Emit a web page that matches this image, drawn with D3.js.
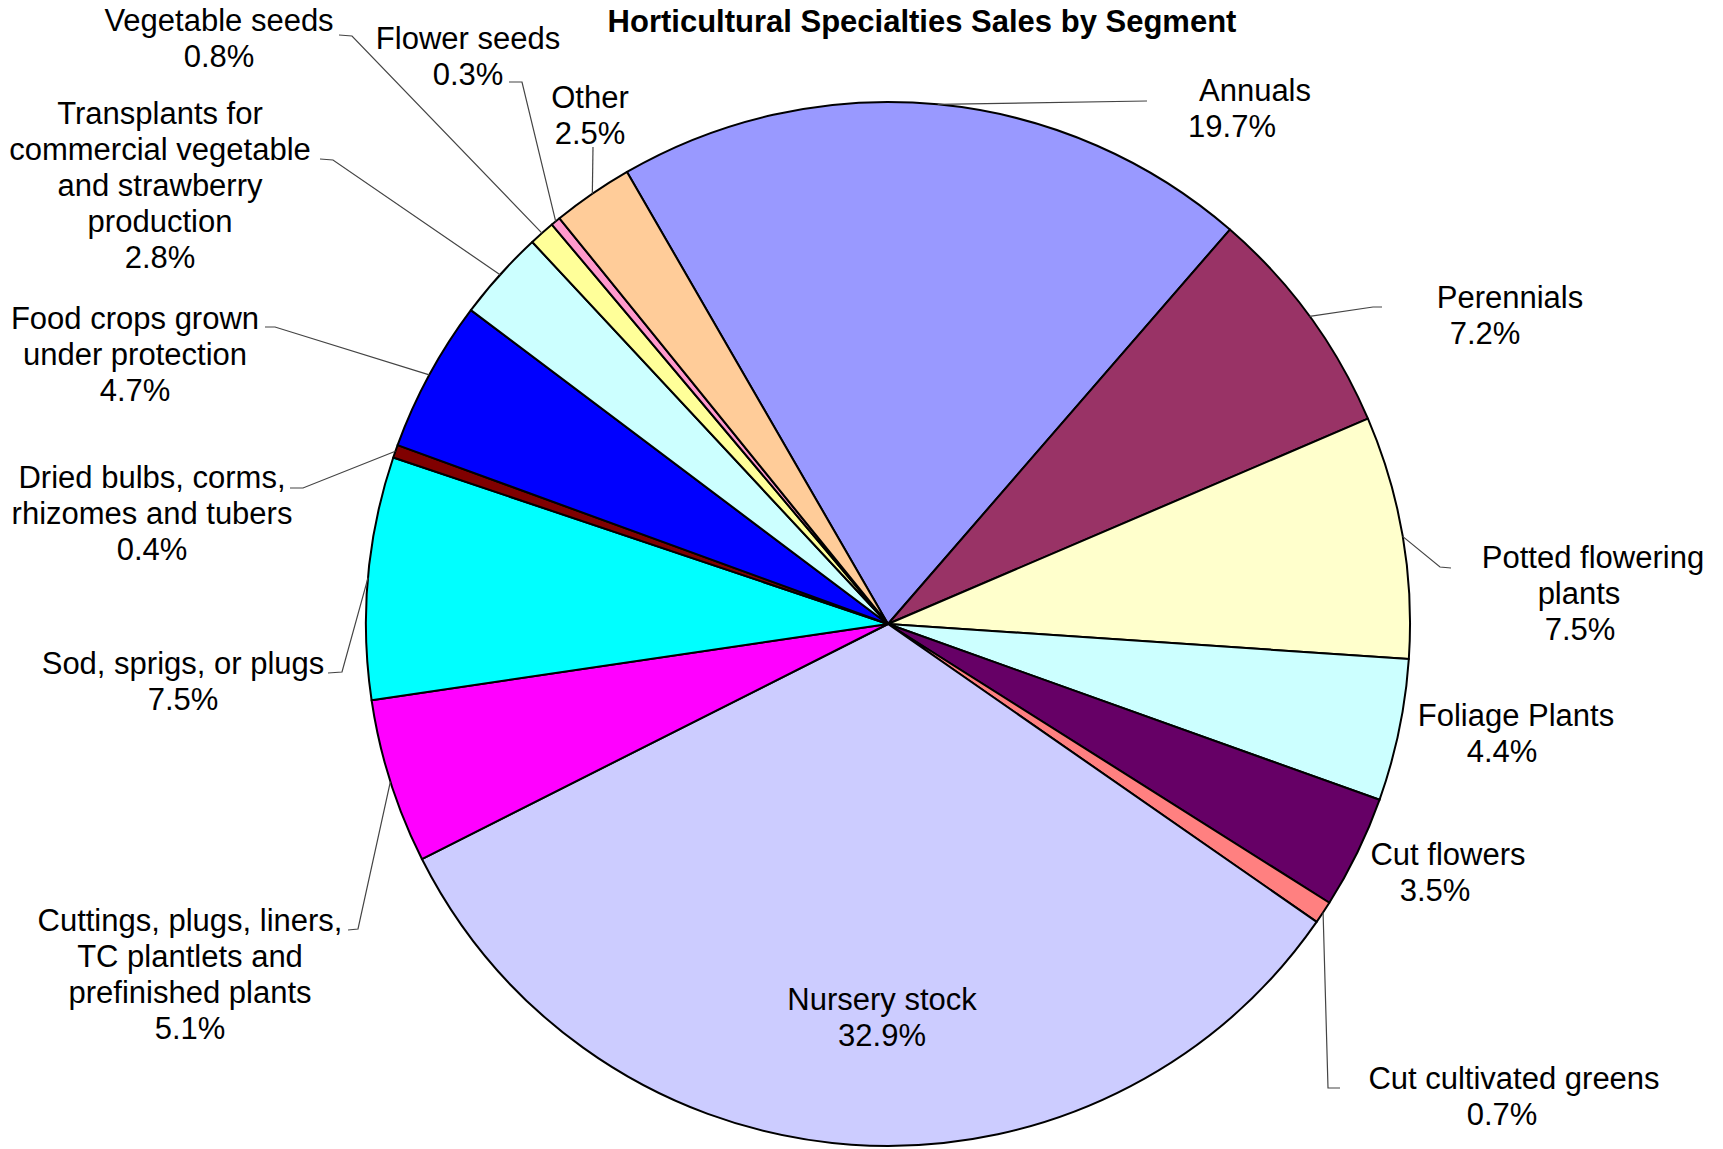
<!DOCTYPE html>
<html>
<head>
<meta charset="utf-8">
<script src="https://cdn.jsdelivr.net/npm/d3@7"></script>
<style>
  body { margin: 0; background: #fff; }
  svg { display: block; }
  text { font-family: "Liberation Sans", Arial, sans-serif; fill: #000; }
</style>
</head>
<body>
<div id="chart"></div>
<script>
// segments, clockwise from the Annuals slice
var categories = [
  "Annuals", "Perennials", "Potted flowering plants", "Foliage Plants",
  "Cut flowers", "Cut cultivated greens", "Nursery stock",
  "Cuttings, plugs, liners, TC plantlets and prefinished plants",
  "Sod, sprigs, or plugs", "Dried bulbs, corms, rhizomes and tubers",
  "Food crops grown under protection",
  "Transplants for commercial vegetable and strawberry production",
  "Vegetable seeds", "Flower seeds", "Other"
];
var values = [19.7, 7.2, 7.5, 4.4, 3.5, 0.7, 32.9, 5.1, 7.5, 0.4, 4.7, 2.8, 0.8, 0.3, 2.5];
var colors = [
  "#9999FF", "#993366", "#FFFFCC", "#CCFFFF", "#660066", "#FF8080", "#CCCCFF",
  "#FF00FF", "#00FFFF", "#800000", "#0000FF", "#CCFFFF", "#FFFF99", "#FF99CC", "#FFCC99"
];
var title = "Horticultural Specialties Sales by Segment";

// label placement (hand placed in the original chart)
// xs: centre of each text line (last one is the percentage)
var labelLayout = {
  "Annuals": { lines: ["Annuals"], xs: [1255, 1232], y: 90, leader: [[1147, 101]] },
  "Perennials": { lines: ["Perennials"], xs: [1510, 1485], y: 297, leader: [[1382, 307], [1373, 307]] },
  "Potted flowering plants": { lines: ["Potted flowering", "plants"], xs: [1593, 1579, 1580], y: 557, leader: [[1451, 568], [1440, 567]] },
  "Foliage Plants": { lines: ["Foliage Plants"], xs: [1516, 1502], y: 715, leader: null },
  "Cut flowers": { lines: ["Cut flowers"], xs: [1448, 1435], y: 854, leader: null },
  "Cut cultivated greens": { lines: ["Cut cultivated greens"], xs: [1514, 1502], y: 1078, leader: [[1340, 1088], [1328, 1088]] },
  "Nursery stock": { lines: ["Nursery stock"], xs: [882, 882], y: 999, leader: null },
  "Cuttings, plugs, liners, TC plantlets and prefinished plants": { lines: ["Cuttings, plugs, liners,", "TC plantlets and", "prefinished plants"], xs: [190, 190, 190, 190], y: 920, leader: [[348, 930], [358, 929]] },
  "Sod, sprigs, or plugs": { lines: ["Sod, sprigs, or plugs"], xs: [183, 183], y: 663, leader: [[328, 673], [342, 672]] },
  "Dried bulbs, corms, rhizomes and tubers": { lines: ["Dried bulbs, corms,", "rhizomes and tubers"], xs: [152, 152, 152], y: 477, leader: [[290, 488], [303, 488]] },
  "Food crops grown under protection": { lines: ["Food crops grown", "under protection"], xs: [135, 135, 135], y: 318, leader: [[265, 327], [275, 327]] },
  "Transplants for commercial vegetable and strawberry production": { lines: ["Transplants for", "commercial vegetable", "and strawberry", "production"], xs: [160, 160, 160, 160, 160], y: 113, leader: [[320, 159], [333, 160]] },
  "Vegetable seeds": { lines: ["Vegetable seeds"], xs: [219, 219], y: 20, leader: [[339, 35], [352, 36]] },
  "Flower seeds": { lines: ["Flower seeds"], xs: [468, 468], y: 38, leader: [[509, 82], [522, 82]] },
  "Other": { lines: ["Other"], xs: [590, 590], y: 97, leader: [[593, 147]] }
};

var w = 1723;
var h = 1149;
var cx = 888;
var cy = 624;
var radius = 522;
var lineH = 36;

var svg = d3.select('#chart')
            .append('svg')
            .attr('width', w)
            .attr('height', h);

var data = categories.map(function(c, i) {
  return { name: c, value: values[i], color: colors[i] };
});
var total = d3.sum(values);
var pct = d3.format('.1%');

var start = -30 * Math.PI / 180;
var pie = d3.pie()
            .sort(null)
            .value(d => d.value)
            .startAngle(start)
            .endAngle(start + 2 * Math.PI);

var arc = d3.arc().innerRadius(0).outerRadius(radius);
var edgeArc = d3.arc().innerRadius(radius).outerRadius(radius);

var arcs = pie(data);

var g = svg.append('g').attr('transform', `translate(${cx},${cy})`);

g.selectAll('path.slice')
  .data(arcs)
  .enter()
  .append('path')
  .attr('class', 'slice')
  .attr('d', arc)
  .attr('fill', d => d.data.color)
  .attr('stroke', '#000')
  .attr('stroke-width', 2)
  .attr('stroke-linejoin', 'round');

// leader lines: from label elbow to the middle of the slice's rim
var line = d3.line();
arcs.forEach(function(d) {
  var lay = labelLayout[d.data.name];
  if (!lay.leader) return;
  var c = edgeArc.centroid(d);
  var pts = lay.leader.map(p => [p[0], p[1]]);
  pts.push([c[0] + cx, c[1] + cy]);
  svg.append('path')
     .attr('d', line(pts))
     .attr('fill', 'none')
     .attr('stroke', '#444')
     .attr('stroke-width', 1.2);
});

// labels
arcs.forEach(function(d) {
  var lay = labelLayout[d.data.name];
  var lines = lay.lines.concat([pct(d.data.value / total)]);
  var t = svg.append('text')
             .attr('text-anchor', 'middle')
             .attr('font-size', 31);
  lines.forEach(function(s, i) {
    t.append('tspan')
     .attr('x', lay.xs[i])
     .attr('y', lay.y + i * lineH)
     .attr('dy', '0.36em')
     .text(s);
  });
});

svg.append('text')
   .attr('x', 922)
   .attr('y', 21)
   .attr('dy', '0.36em')
   .attr('text-anchor', 'middle')
   .attr('font-size', 31)
   .attr('font-weight', 'bold')
   .text(title);
</script>
</body>
</html>
